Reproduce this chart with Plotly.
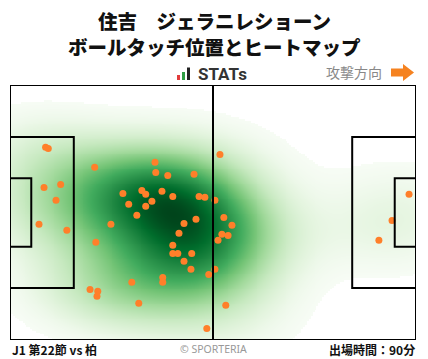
import numpy as np
import plotly.graph_objects as go

# ---- data: ball-touch positions (metres, pitch 105 x 68, attacking to the right) ----
touch_x = [9.2, 9.9, 8.8, 13.1, 11.9, 7.5, 14.7, 21.9, 37.5, 37.7, 40.8, 47.6, 29.2, 34.1,
           35.1, 39.3, 42.1, 48.9, 50.4, 30.7, 35.1, 36.7, 32.8, 53.0, 54.3, 55.3, 57.4, 54.8,
           56.4, 53.8, 45.0, 48.1, 43.7, 26.1, 22.2, 42.1, 42.1, 43.4, 47.0, 45.0, 46.8, 53.0,
           51.4, 31.5, 39.5, 39.5, 20.7, 22.7, 22.5, 33.3, 55.8, 50.9, 98.8, 95.4, 103.2]
touch_y = [51.4, 51.1, 40.7, 41.5, 37.3, 30.9, 29.3, 46.1, 47.4, 44.7, 43.9, 44.2, 39.1, 39.9,
           38.9, 39.7, 38.3, 38.3, 38.1, 36.2, 35.7, 37.0, 33.3, 37.3, 49.5, 32.7, 30.6, 28.2,
           27.9, 26.6, 31.1, 32.2, 28.5, 30.9, 26.1, 25.3, 23.1, 23.1, 23.1, 21.0, 18.9, 18.9,
           17.5, 15.4, 16.7, 15.4, 13.5, 13.0, 11.7, 9.8, 9.3, 3.1, 31.9, 26.6, 38.9]

title_line1 = "住吉　ジェラニレショーン"
title_line2 = "ボールタッチ位置とヒートマップ"
match_label = "J1 第22節 vs 柏"
minutes_label = "出場時間：90分"
credit_label = "© SPORTERIA"
direction_label = "攻撃方向"

PITCH_L, PITCH_W = 105.0, 68.0
KDE_THRESH = 0.03
KDE_CUT = 3
BW_ADJUST = 1.3

# ---- Gaussian KDE (Scott's rule, full covariance), evaluated on an extended grid ----
data = np.vstack([np.array(touch_x), np.array(touch_y)])
n = data.shape[1]
factor = n ** (-1.0 / 6.0) * BW_ADJUST
cov = np.cov(data) * factor ** 2
inv = np.linalg.inv(cov)
norm = n * 2 * np.pi * np.sqrt(np.linalg.det(cov))
bw = np.sqrt(np.diag(cov))

def kde(GX, GY):
    pts = np.stack([GX.ravel(), GY.ravel()])
    d = pts[:, :, None] - data[:, None, :]
    q = np.einsum('imn,ij,jmn->mn', d, inv, d)
    return (np.exp(-0.5 * q).sum(axis=1) / norm).reshape(GX.shape)

ex = np.linspace(data[0].min() - KDE_CUT * bw[0], data[0].max() + KDE_CUT * bw[0], 220)
ey = np.linspace(data[1].min() - KDE_CUT * bw[1], data[1].max() + KDE_CUT * bw[1], 220)
EX, EY = np.meshgrid(ex, ey)
ed = np.sort(kde(EX, EY).ravel())
cdf = np.cumsum(ed) / ed.sum()          # mass fraction with density <= value

gx = np.linspace(0, PITCH_L, 211)
gy = np.linspace(0, PITCH_W, 137)
GX, GY = np.meshgrid(gx, gy)
dens = kde(GX, GY)
prop = np.interp(dens, ed, cdf)          # iso-proportion of each cell
z = np.where(prop >= KDE_THRESH, prop, np.nan)

greens = [[0.0, "#f7fcf5"], [0.125, "#e5f5e0"], [0.25, "#c7e9c0"], [0.375, "#a1d99b"],
          [0.5, "#74c476"], [0.625, "#41ab5d"], [0.75, "#238b45"], [0.875, "#006d2c"],
          [1.0, "#00441b"]]

fig = go.Figure()
fig.add_trace(go.Heatmap(x=gx, y=gy, z=z, colorscale=greens, zmin=KDE_THRESH, zmax=1.0,
                         zsmooth="best", showscale=False, hoverinfo="skip"))

# ---- pitch lines ----
line = dict(color="black", width=2)
def rect(x0, y0, x1, y1):
    fig.add_shape(type="rect", x0=x0, y0=y0, x1=x1, y1=y1, line=line, layer="above")

rect(0, 0, PITCH_L, PITCH_W)
fig.add_shape(type="line", x0=PITCH_L / 2, x1=PITCH_L / 2, y0=0, y1=PITCH_W, line=line, layer="above")
pb_d, pb_w, ga_d, ga_w = 16.5, 40.32, 5.5, 18.32
rect(0, (PITCH_W - pb_w) / 2, pb_d, (PITCH_W + pb_w) / 2)
rect(0, (PITCH_W - ga_w) / 2, ga_d, (PITCH_W + ga_w) / 2)
rect(PITCH_L - pb_d, (PITCH_W - pb_w) / 2, PITCH_L, (PITCH_W + pb_w) / 2)
rect(PITCH_L - ga_d, (PITCH_W - ga_w) / 2, PITCH_L, (PITCH_W + ga_w) / 2)

fig.add_trace(go.Scatter(x=touch_x, y=touch_y, mode="markers",
                         marker=dict(color="#ff7f2a", size=7, line=dict(width=0)),
                         hoverinfo="skip", cliponaxis=False))

# ---- layout (plot area == pitch: x 10..416 px, y 85..340 px) ----
L, R, T, B = 10, 12, 85, 19
W, H = 428 - L - R, 359 - T - B
def px(xp):
    return (xp - L) / W
def py(yp):
    return (359 - B - yp) / H

jp = "Noto Sans CJK JP"
ann = []
ann.append(dict(text=title_line1, x=px(214), y=py(20.5), font=dict(size=19.5, color="#111", family=jp, weight=900)))
ann.append(dict(text=title_line2, x=px(214), y=py(46.5), font=dict(size=19.5, color="#111", family=jp, weight=900)))
ann.append(dict(text="<b>STATs</b>", x=px(196), y=py(74), xanchor="left",
                font=dict(size=17, color="#333", family="Roboto")))
ann.append(dict(text=direction_label, x=px(384), y=py(72), xanchor="right",
                font=dict(size=14, color="#888", family=jp)))
ann.append(dict(text="<b>%s</b>" % match_label, x=px(10), y=py(349), xanchor="left",
                font=dict(size=12, color="#111", family=jp)))
ann.append(dict(text=credit_label, x=px(213), y=py(349),
                font=dict(size=10.5, color="#999", family="Noto Sans")))
ann.append(dict(text="<b>%s</b>" % minutes_label, x=px(417), y=py(349), xanchor="right",
                font=dict(size=12, color="#111", family=jp)))
for a in ann:
    a.setdefault("xanchor", "center")
    a.update(xref="paper", yref="paper", yanchor="middle", showarrow=False)

# logo bars
for (x0, x1, y0, col) in [(177, 180, 75, "#e23b3b"), (182, 185, 72, "#2e9e44"), (187, 190, 67.5, "#222")]:
    fig.add_shape(type="rect", xref="paper", yref="paper", x0=px(x0), x1=px(x1), y0=py(80), y1=py(y0),
                  fillcolor=col, line=dict(width=0))
# direction arrow
arrow = [(391, 68.5), (403, 68.5), (403, 64), (414, 72.5), (403, 81), (403, 76.5), (391, 76.5)]
path = "M " + " L ".join("%.4f,%.4f" % (px(a), py(b)) for a, b in arrow) + " Z"
fig.add_shape(type="path", xref="paper", yref="paper", path=path, fillcolor="#f58220", line=dict(width=0))

fig.update_layout(
    width=428, height=359, margin=dict(l=L, r=R, t=T, b=B),
    paper_bgcolor="white", plot_bgcolor="white", showlegend=False,
    xaxis=dict(range=[0, PITCH_L], visible=False, fixedrange=True),
    yaxis=dict(range=[0, PITCH_W], visible=False, fixedrange=True),
    annotations=ann,
)
fig.write_html("out.html", config={"displayModeBar": False},
               post_script="document.body.style.margin='0px';document.body.style.overflow='hidden';")
